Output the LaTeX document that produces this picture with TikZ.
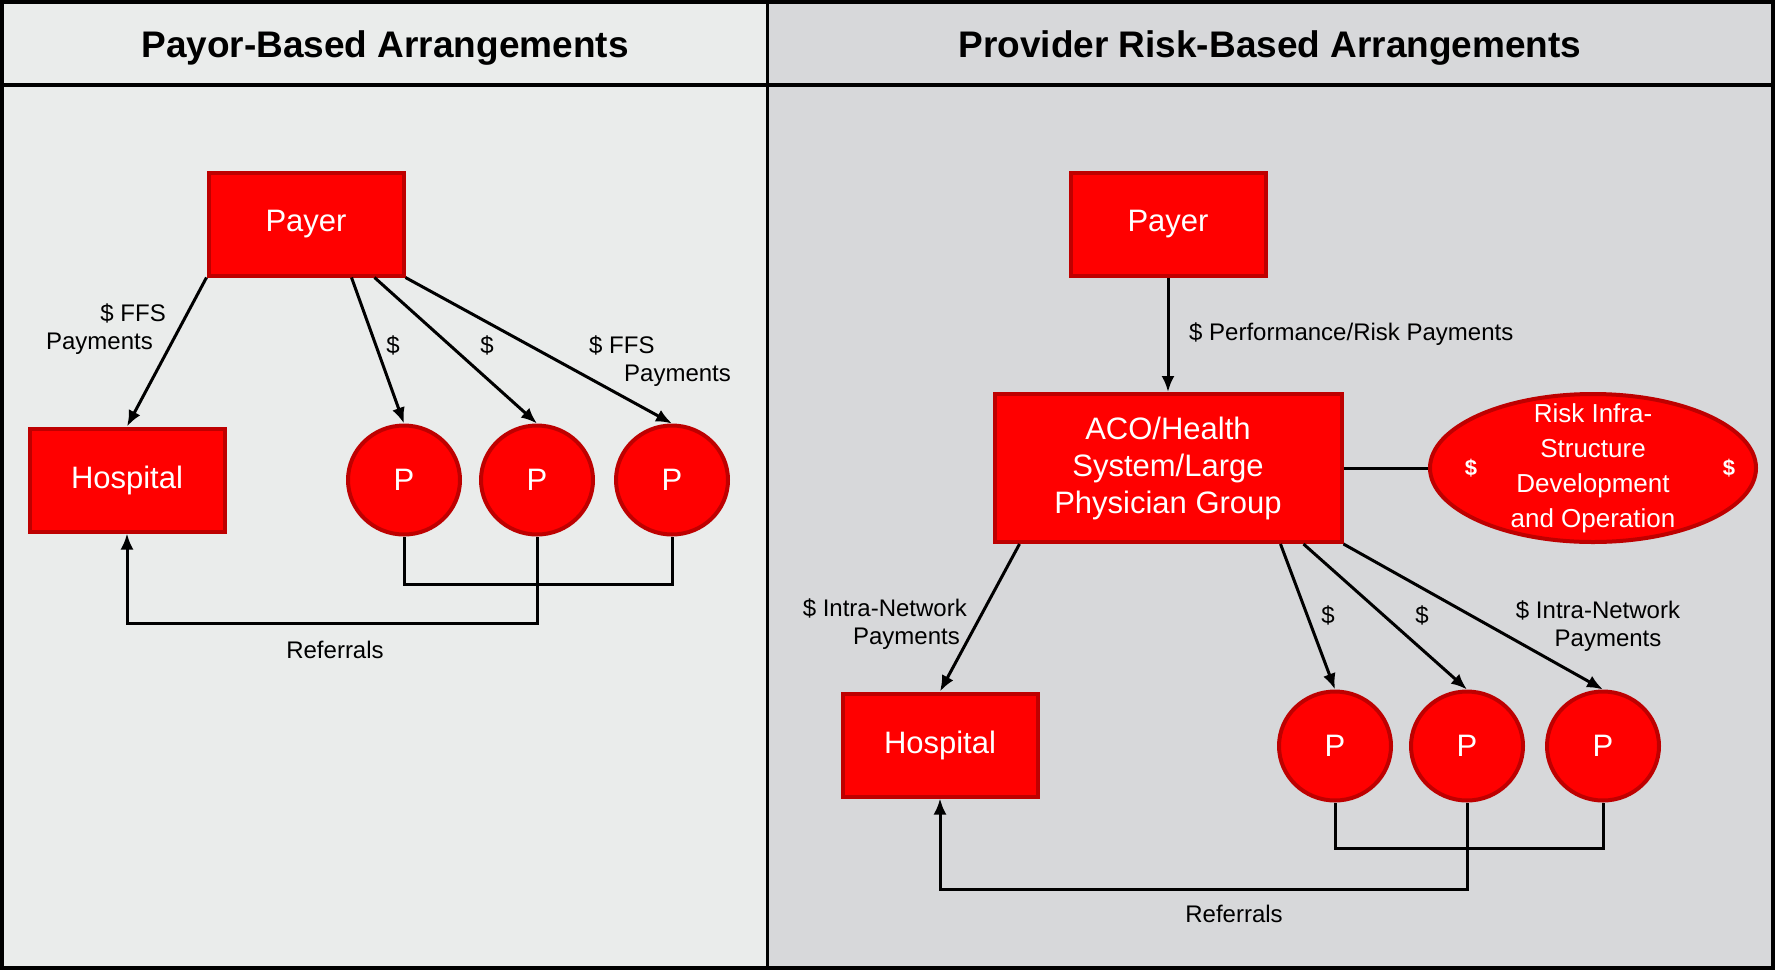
\documentclass[tikz,border=0pt]{standalone}
\usepackage{fontspec}
\setmainfont{Liberation Sans}
\usetikzlibrary{arrows.meta,shapes.geometric}

\definecolor{boxred}{RGB}{255,0,0}
\definecolor{boxedge}{RGB}{190,0,0}
\definecolor{leftbg}{RGB}{234,236,235}
\definecolor{rightbg}{RGB}{215,216,218}

\tikzset{
  redbox/.style={draw=boxedge, fill=boxred, line width=4pt, text=white, align=center,
    minimum width=195pt, minimum height=103pt, font=\fontsize{31}{37}\selectfont},
  pnode/.style={ellipse, draw=boxedge, fill=boxred, line width=4pt, text=white,
    minimum width=112pt, minimum height=109pt, inner sep=0pt, font=\fontsize{31}{37}\selectfont},
  lbl/.style={font=\fontsize{24}{28}\selectfont, inner sep=0pt},
  heading/.style={font=\fontsize{37}{40}\selectfont\bfseries},
  flow/.style={line width=3pt, ->},
  link/.style={line width=3pt},
}

\begin{document}
\begin{tikzpicture}[x=1pt, y=-1pt, >={Latex[length=16pt,width=13pt]}]
\useasboundingbox (0,0) rectangle (1775,970);

% two panels and the frame
\fill[leftbg] (0,0) rectangle (767,970);
\fill[rightbg] (767,0) rectangle (1775,970);
\draw[line width=4pt] (2,2) rectangle (1773,968);
\draw[line width=4pt] (2,85) -- (1773,85);
\draw[line width=3pt] (767,2) -- (767,968);

\node[heading] (ltitle) at (385,48) {Payor-Based Arrangements};
\node[heading] (rtitle) at (1270,48) {Provider Risk-Based Arrangements};

% payor-based side
\node[redbox] (lpayer) at (306,224) {Payer};
\node[redbox] (lhosp) at (127,480) {Hospital};
\node[pnode] (lp1) at (404,480) {P};
\node[pnode] (lp2) at (537,480) {P};
\node[pnode] (lp3) at (672,480) {P};

\draw[flow] (lpayer.south west) -- (lhosp.north);
\draw[flow] ([xshift=-54pt]lpayer.south east) -- (lp1.north);
\draw[flow] ([xshift=-31pt]lpayer.south east) -- (lp2.north);
\draw[flow] (lpayer.south east) -- (lp3.north);

\node[lbl, align=right, anchor=east] (lffs) at (166,329) {\$ FFS\\Payments\hspace*{13pt}};
\node[lbl] (ld1) at (393,345) {\$};
\node[lbl] (ld2) at (487,345) {\$};
\node[lbl, align=left, anchor=west] (rffs) at (589,361) {\$ FFS\\\hspace*{35pt}Payments};

\draw[link] (lp1.south) -- ++(0,48) -| (lp3.south);
\draw[flow] (lp2.south) -- ++(0,87) -| (lhosp.south);
\node[lbl] (lref) at (335,650) {Referrals};

% provider risk-based side
\node[redbox] (rpayer) at (1168,224) {Payer};
\node[redbox, minimum width=347pt, minimum height=148pt] (aco) at (1168,468)
  {ACO/Health\\System/Large\\Physician Group};
\node[ellipse, draw=boxedge, fill=boxred, line width=4pt, text=white, align=center,
  minimum width=326pt, minimum height=148pt, inner xsep=0pt, inner ysep=-17pt,
  font=\fontsize{26}{35}\selectfont] (risk) at (1593,468)
  {Risk Infra-\\Structure\\Development\\and Operation};
\node[text=white, font=\fontsize{22}{24}\selectfont\bfseries] (rdl) at ([xshift=43pt]risk.west) {\$};
\node[text=white, font=\fontsize{22}{24}\selectfont\bfseries] (rdr) at ([xshift=-29pt]risk.east) {\$};
\draw[link] (aco.east) -- (risk.west);

\node[redbox] (rhosp) at (940,745) {Hospital};
\node[pnode] (rp1) at (1335,746) {P};
\node[pnode] (rp2) at (1467,746) {P};
\node[pnode] (rp3) at (1603,746) {P};

\draw[flow] (rpayer.south) -- (aco.north);
\node[lbl, anchor=west] (perf) at (1189,334) {\$ Performance/Risk Payments};

\draw[flow] ([xshift=27pt]aco.south west) -- (rhosp.north);
\draw[flow] ([xshift=-63pt]aco.south east) -- (rp1.north);
\draw[flow] ([xshift=-40pt]aco.south east) -- (rp2.north);
\draw[flow] (aco.south east) -- (rp3.north);

\node[lbl, align=right, anchor=east] (lintra) at (967,624) {\$ Intra-Network\\Payments\hspace*{7pt}};
\node[lbl] (rd1) at (1328,615) {\$};
\node[lbl] (rd2) at (1422,615) {\$};
\node[lbl, align=center] (rintra) at (1598,626) {\$ Intra-Network\\\hspace*{20pt}Payments};

\draw[link] (rp1.south) -- ++(0,46) -| (rp3.south);
\draw[flow] (rp2.south) -- ++(0,87) -| (rhosp.south);
\node[lbl] (rref) at (1234,914) {Referrals};
\end{tikzpicture}
\end{document}
